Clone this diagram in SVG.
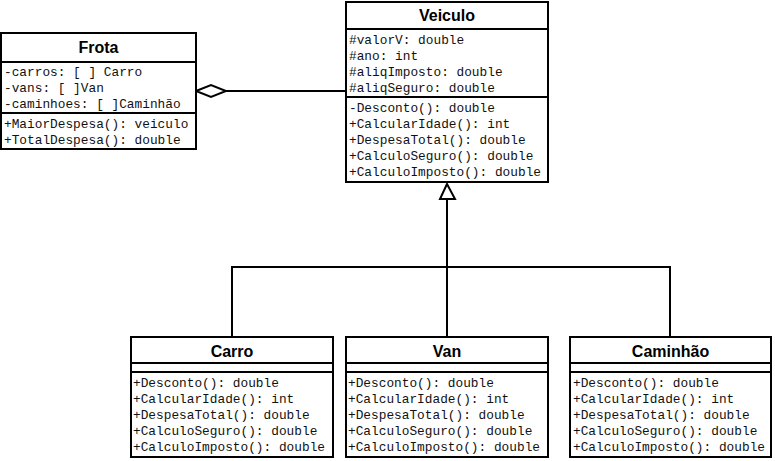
<svg xmlns="http://www.w3.org/2000/svg" width="775" height="461" viewBox="0 0 775 461">
<style>
.box{fill:#fff;stroke:#000;stroke-width:2}
.div{stroke:#000;stroke-width:2}
.t{font-family:"Liberation Sans",Arial,sans-serif;font-weight:bold;font-size:16px;fill:#000;text-anchor:middle}
.m{font-family:"Liberation Mono","Courier New",monospace;font-size:12.8px;fill:#111}
.c{fill:none;stroke:#000;stroke-width:2}
</style>
<rect width="775" height="461" fill="#fff"/>
<g id="connectors">
<line class="c" x1="226" y1="91" x2="346" y2="91"/>
<polygon points="196,91 211,85 226,91 211,97" fill="#fff" stroke="#000" stroke-width="2"/>
<path class="c" d="M232,337 V267 H670 V337 M447,337 V199"/>
<polygon points="447,184 440,199 455,199" fill="#fff" stroke="#000" stroke-width="2"/>
</g>
<g id="frota">
<rect class="box" x="1" y="33" width="195" height="116"/>
<line class="div" x1="1" y1="62" x2="196" y2="62"/>
<line class="div" x1="1" y1="113" x2="196" y2="113"/>
<text class="t" x="98.5" y="53">Frota</text>
<text class="m" x="4" y="76">-carros: [ ] Carro</text>
<text class="m" x="4" y="92">-vans: [ ]Van</text>
<text class="m" x="4" y="108">-caminhoes: [ ]Caminhão</text>
<text class="m" x="4" y="128">+MaiorDespesa(): veiculo</text>
<text class="m" x="4" y="144">+TotalDespesa(): double</text>
</g>
<g id="veiculo">
<rect class="box" x="346" y="2" width="202" height="180"/>
<line class="div" x1="346" y1="29" x2="548" y2="29"/>
<line class="div" x1="346" y1="97" x2="548" y2="97"/>
<text class="t" x="447" y="21">Veiculo</text>
<text class="m" x="349" y="44">#valorV: double</text>
<text class="m" x="349" y="60">#ano: int</text>
<text class="m" x="349" y="76">#aliqImposto: double</text>
<text class="m" x="349" y="92">#aliqSeguro: double</text>
<text class="m" x="349" y="112">-Desconto(): double</text>
<text class="m" x="349" y="128">+CalcularIdade(): int</text>
<text class="m" x="349" y="144">+DespesaTotal(): double</text>
<text class="m" x="349" y="160">+CalculoSeguro(): double</text>
<text class="m" x="349" y="176">+CalculoImposto(): double</text>
</g>
<g id="carro">
<rect class="box" x="131" y="337" width="202" height="120"/>
<line class="div" x1="131" y1="363" x2="333" y2="363"/>
<line class="div" x1="131" y1="372" x2="333" y2="372"/>
<text class="t" x="232" y="357">Carro</text>
<text class="m" x="133" y="387">+Desconto(): double</text>
<text class="m" x="133" y="403">+CalcularIdade(): int</text>
<text class="m" x="133" y="419">+DespesaTotal(): double</text>
<text class="m" x="133" y="435">+CalculoSeguro(): double</text>
<text class="m" x="133" y="451">+CalculoImposto(): double</text>
</g>
<g id="van">
<rect class="box" x="346" y="337" width="202" height="120"/>
<line class="div" x1="346" y1="363" x2="548" y2="363"/>
<line class="div" x1="346" y1="372" x2="548" y2="372"/>
<text class="t" x="447" y="357">Van</text>
<text class="m" x="348" y="387">+Desconto(): double</text>
<text class="m" x="348" y="403">+CalcularIdade(): int</text>
<text class="m" x="348" y="419">+DespesaTotal(): double</text>
<text class="m" x="348" y="435">+CalculoSeguro(): double</text>
<text class="m" x="348" y="451">+CalculoImposto(): double</text>
</g>
<g id="caminhao">
<rect class="box" x="570" y="337" width="201" height="120"/>
<line class="div" x1="570" y1="363" x2="771" y2="363"/>
<line class="div" x1="570" y1="372" x2="771" y2="372"/>
<text class="t" x="670.5" y="357">Caminhão</text>
<text class="m" x="573" y="387">+Desconto(): double</text>
<text class="m" x="573" y="403">+CalcularIdade(): int</text>
<text class="m" x="573" y="419">+DespesaTotal(): double</text>
<text class="m" x="573" y="435">+CalculoSeguro(): double</text>
<text class="m" x="573" y="451">+CalculoImposto(): double</text>
</g>
</svg>
